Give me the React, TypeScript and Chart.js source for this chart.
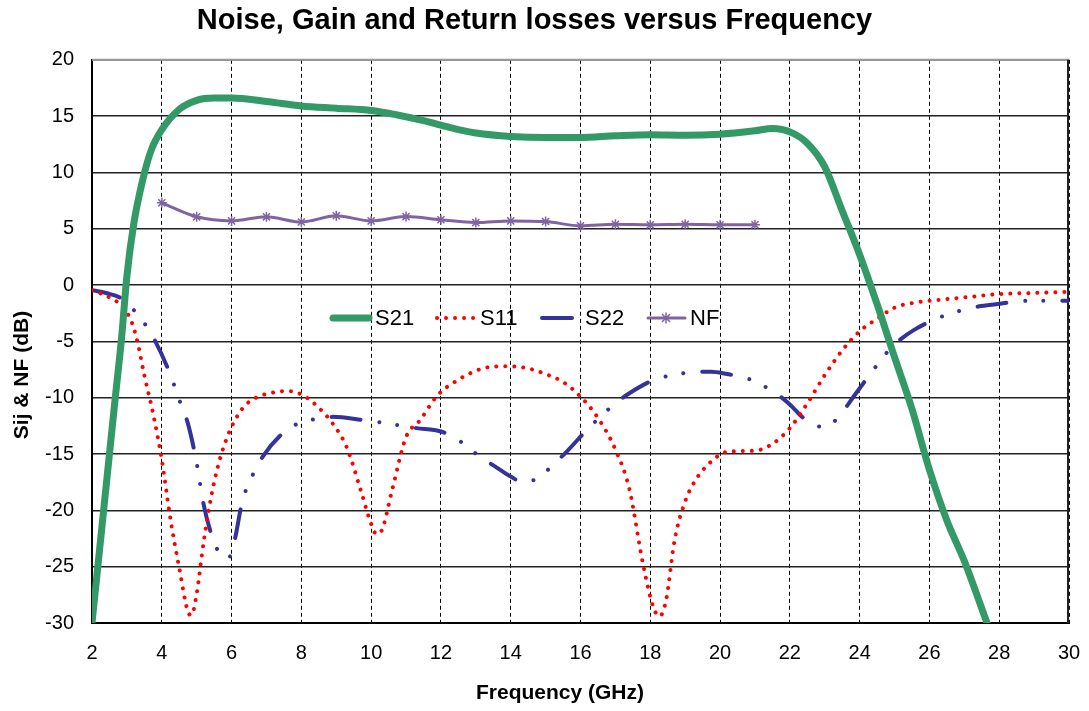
import React, { useEffect, useRef } from "react";
import { Chart, registerables } from "chart.js";
Chart.register(...registerables);

const TITLE = "Noise, Gain and Return losses versus Frequency";
const X_TITLE = "Frequency (GHz)";
const Y_TITLE = "Sij & NF (dB)";

const X_MIN = 2;
const X_MAX = 30;
const X_STEP = 2;
const Y_MIN = -30;
const Y_MAX = 20;
const Y_STEP = 5;

const S21_FREQ = [2, 2.35, 2.65, 2.85, 3.0, 3.2, 3.45, 3.7, 4.0, 4.5, 5.0, 5.5, 6.0, 7.0, 8.0, 9.0, 10.0, 10.75, 11.5, 12.0, 12.5, 13.0, 14.0, 15.0, 16.0, 17.0, 18.0, 19.0, 20.0, 21.0, 21.5, 22.0, 22.5, 23.0, 23.5, 24.0, 24.5, 25.0, 25.5, 26.0, 26.5, 27.0, 27.65];
const S21_DB = [-30, -19.5, -10.5, -4.6, 0.8, 5.5, 9.3, 12.0, 13.8, 15.6, 16.4, 16.6, 16.6, 16.3, 15.9, 15.7, 15.5, 15.1, 14.6, 14.2, 13.8, 13.5, 13.2, 13.1, 13.1, 13.25, 13.35, 13.3, 13.4, 13.7, 13.9, 13.6, 12.6, 10.5, 6.6, 2.7, -1.7, -6.4, -11.0, -16.4, -20.9, -24.5, -30];

const S11_FREQ = [2, 2.5, 2.9, 3.15, 3.3, 3.5, 3.75, 4.0, 4.25, 4.5, 4.75, 4.85, 5.0, 5.2, 5.5, 5.85, 6.3, 6.7, 7.1, 7.6, 8.0, 8.4, 8.9, 9.3, 9.7, 10.0, 10.15, 10.3, 10.6, 11.0, 11.4, 11.9, 12.5, 13.2, 13.9, 14.5, 15.0, 15.5, 16.0, 16.5, 17.0, 17.4, 17.8, 18.1, 18.27, 18.45, 18.7, 19.0, 19.3, 19.7, 20.2, 21.0, 21.5, 22.0, 22.5, 23.0, 23.5, 24.0, 24.5, 25.0, 25.5, 26.0, 27.0, 28.0, 29.0, 30.0];
const S11_DB = [-0.45, -1.1, -2.0, -3.4, -5.0, -8.0, -11.4, -15.5, -20.8, -25.1, -29.0, -29.3, -27.4, -22.8, -17.5, -13.7, -11.0, -10.0, -9.6, -9.4, -9.7, -10.6, -12.3, -14.4, -18.2, -21.2, -22.1, -21.8, -18.2, -13.5, -12.0, -9.8, -8.4, -7.4, -7.2, -7.4, -7.9, -8.6, -9.9, -11.8, -14.6, -18.1, -24.9, -28.7, -29.4, -28.0, -22.6, -19.2, -17.3, -15.8, -14.8, -14.7, -14.1, -12.7, -10.5, -8.0, -5.8, -4.1, -3.0, -2.0, -1.6, -1.4, -1.1, -0.8, -0.7, -0.6];

const S22_FREQ = [2, 2.4, 2.85, 3.25, 3.55, 3.8, 4.2, 4.55, 4.75, 5.0, 5.2, 5.45, 5.65, 5.8, 5.95, 6.1, 6.3, 6.6, 6.9, 7.45, 7.9, 8.4, 8.9, 9.8, 10.3, 10.9, 11.3, 12.0, 12.3, 12.7, 13.1, 13.6, 14.0, 14.35, 14.8, 15.2, 15.6, 16.2, 16.6, 17.0, 17.4, 18.2, 18.7, 19.25, 19.75, 20.2, 20.7, 21.15, 21.6, 22.0, 22.35, 22.7, 22.95, 23.2, 23.55, 23.85, 24.4, 24.75, 25.1, 25.55, 26.35, 26.85, 27.4, 27.9, 28.8, 30];
const S22_DB = [-0.45, -0.7, -1.2, -2.4, -3.6, -4.9, -7.6, -10.6, -12.3, -15.8, -19.5, -22.4, -23.8, -24.2, -24.1, -22.5, -19.3, -16.9, -15.2, -13.2, -12.3, -11.9, -11.7, -12.0, -12.2, -12.5, -12.7, -13.0, -13.4, -14.2, -15.2, -16.2, -17.0, -17.5, -17.1, -16.0, -14.8, -12.8, -11.6, -10.5, -9.6, -8.3, -8.0, -7.7, -7.7, -7.9, -8.2, -8.8, -9.6, -10.6, -11.7, -12.4, -12.6, -12.3, -11.1, -9.8, -7.5, -6.1, -5.0, -4.0, -2.8, -2.3, -1.9, -1.7, -1.4, -1.4];

const NF_FREQ = [4, 5, 6, 7, 8, 9, 10, 11, 12, 13, 14, 15, 16, 17, 18, 19, 20, 21];
const NF_DB = [7.3, 6.06, 5.7, 6.06, 5.6, 6.15, 5.7, 6.08, 5.8, 5.55, 5.7, 5.64, 5.26, 5.4, 5.35, 5.4, 5.35, 5.35];

const SERIES_NAMES = ["S21", "S11", "S22", "NF"];
const SERIES_COLORS = ["#339966", "#FF0000", "#333399", "#8064A2"];

const FONT = "'Liberation Sans', Arial, Helvetica, sans-serif";

const toPoints = (xs: number[], ys: number[]) => xs.map((x, i) => ({ x, y: ys[i] }));

function drawStar(ctx: CanvasRenderingContext2D, x: number, y: number, r: number) {
  ctx.beginPath();
  for (let k = 0; k < 4; k++) {
    const a = (k * Math.PI) / 4;
    ctx.moveTo(x - Math.cos(a) * r, y - Math.sin(a) * r);
    ctx.lineTo(x + Math.cos(a) * r, y + Math.sin(a) * r);
  }
  ctx.stroke();
}

const decorPlugin = {
  id: "decor",
  beforeDatasetsDraw(chart: any) {
    const { ctx, chartArea: a } = chart;
    ctx.save();
    ctx.strokeStyle = "#999";
    ctx.lineWidth = 2;
    ctx.beginPath();
    ctx.moveTo(a.left, a.top);
    ctx.lineTo(a.right, a.top);
    ctx.stroke();
    ctx.strokeStyle = "#222";
    ctx.lineWidth = 2;
    ctx.beginPath();
    ctx.moveTo(a.right - 1, a.top);
    ctx.lineTo(a.right - 1, a.bottom);
    ctx.stroke();
    ctx.restore();
  },
  afterDatasetsDraw(chart: any) {
    const { ctx } = chart;
    ctx.save();
    const ly = 318;
    ctx.lineCap = "round";
    // S21
    ctx.strokeStyle = SERIES_COLORS[0];
    ctx.lineWidth = 7;
    ctx.beginPath();
    ctx.moveTo(333, ly);
    ctx.lineTo(369, ly);
    ctx.stroke();
    // S11
    ctx.strokeStyle = SERIES_COLORS[1];
    ctx.lineWidth = 4;
    ctx.setLineDash([0.01, 9]);
    ctx.beginPath();
    ctx.moveTo(437, ly);
    ctx.lineTo(476, ly);
    ctx.stroke();
    ctx.setLineDash([]);
    // S22
    ctx.strokeStyle = SERIES_COLORS[2];
    ctx.lineWidth = 4;
    ctx.beginPath();
    ctx.moveTo(542, ly);
    ctx.lineTo(572, ly);
    ctx.stroke();
    // NF
    ctx.strokeStyle = SERIES_COLORS[3];
    ctx.lineWidth = 3;
    ctx.beginPath();
    ctx.moveTo(648, ly);
    ctx.lineTo(685, ly);
    ctx.stroke();
    ctx.lineWidth = 1.5;
    drawStar(ctx, 666, ly, 5);

    ctx.fillStyle = "#000";
    ctx.font = `22px ${FONT}`;
    ctx.textBaseline = "middle";
    ctx.textAlign = "left";
    ctx.fillText(SERIES_NAMES[0], 375, ly + 1);
    ctx.fillText(SERIES_NAMES[1], 480, ly + 1);
    ctx.fillText(SERIES_NAMES[2], 585, ly + 1);
    ctx.fillText(SERIES_NAMES[3], 690, ly + 1);

    // axis titles
    ctx.font = `bold 21px ${FONT}`;
    ctx.textAlign = "center";
    ctx.fillText(X_TITLE, 560, 693);
    ctx.translate(22, 375);
    ctx.rotate(-Math.PI / 2);
    ctx.fillText(Y_TITLE, 0, 0);
    ctx.restore();
  },
};

export default function App() {
  const canvasRef = useRef<HTMLCanvasElement | null>(null);

  useEffect(() => {
    const canvas = canvasRef.current;
    if (!canvas) return;
    Chart.defaults.font.family = FONT;
    Chart.defaults.color = "#000";
    const chart = new Chart(canvas, {
      type: "line",
      data: {
        datasets: [
          {
            label: SERIES_NAMES[0],
            data: toPoints(S21_FREQ, S21_DB),
            borderColor: SERIES_COLORS[0],
            backgroundColor: SERIES_COLORS[0],
            borderWidth: 7,
            pointRadius: 0,
            cubicInterpolationMode: "monotone",
            borderCapStyle: "round",
            borderJoinStyle: "round",
          },
          {
            label: SERIES_NAMES[1],
            data: toPoints(S11_FREQ, S11_DB),
            borderColor: SERIES_COLORS[1],
            backgroundColor: SERIES_COLORS[1],
            borderWidth: 4,
            borderDash: [0.01, 9],
            borderCapStyle: "round",
            pointRadius: 0,
            cubicInterpolationMode: "monotone",
          },
          {
            label: SERIES_NAMES[2],
            data: toPoints(S22_FREQ, S22_DB),
            borderColor: SERIES_COLORS[2],
            backgroundColor: SERIES_COLORS[2],
            borderWidth: 4,
            borderDash: [29, 19, 0.01, 18, 0.01, 19],
            borderCapStyle: "round",
            pointRadius: 0,
            cubicInterpolationMode: "monotone",
          },
          {
            label: SERIES_NAMES[3],
            data: toPoints(NF_FREQ, NF_DB),
            borderColor: SERIES_COLORS[3],
            backgroundColor: SERIES_COLORS[3],
            borderWidth: 3,
            pointStyle: "star",
            pointRadius: 5,
            pointBorderWidth: 1.5,
            cubicInterpolationMode: "monotone",
          },
        ],
      },
      options: {
        responsive: false,
        animation: false,
        devicePixelRatio: 1,
        layout: { padding: { top: 0, left: 0, right: 20, bottom: 0 } },
        plugins: {
          legend: { display: false },
          tooltip: { enabled: false },
          title: {
            display: true,
            text: TITLE,
            color: "#000",
            font: { size: 29, weight: "bold", family: FONT },
            padding: { top: 4, bottom: 21 },
          },
        },
        scales: {
          x: {
            type: "linear",
            min: X_MIN,
            max: X_MAX,
            ticks: { stepSize: X_STEP, font: { size: 20 }, color: "#000", padding: 18 },
            grid: {
              color: "#000",
              lineWidth: 1,
              drawTicks: false,
            },
            border: { display: true, color: "#000", width: 2, dash: [4, 3] },
            afterFit: (scale: any) => {
              scale.height = 88;
              scale.paddingLeft = 0;
              scale.paddingRight = 0;
            },
          },
          y: {
            type: "linear",
            min: Y_MIN,
            max: Y_MAX,
            ticks: { stepSize: Y_STEP, font: { size: 20 }, color: "#000", padding: 18 },
            grid: {
              color: "#222",
              lineWidth: 1.5,
              drawTicks: false,
            },
            border: { display: true, color: "#000", width: 2 },
            afterFit: (scale: any) => {
              scale.width = 92;
            },
          },
        },
      },
      plugins: [decorPlugin],
    });
    return () => chart.destroy();
  }, []);

  return (
    <div style={{ position: "fixed", left: 0, top: 0, width: 1089, height: 711, background: "#fff" }}>
      <canvas ref={canvasRef} width={1089} height={711} />
    </div>
  );
}
